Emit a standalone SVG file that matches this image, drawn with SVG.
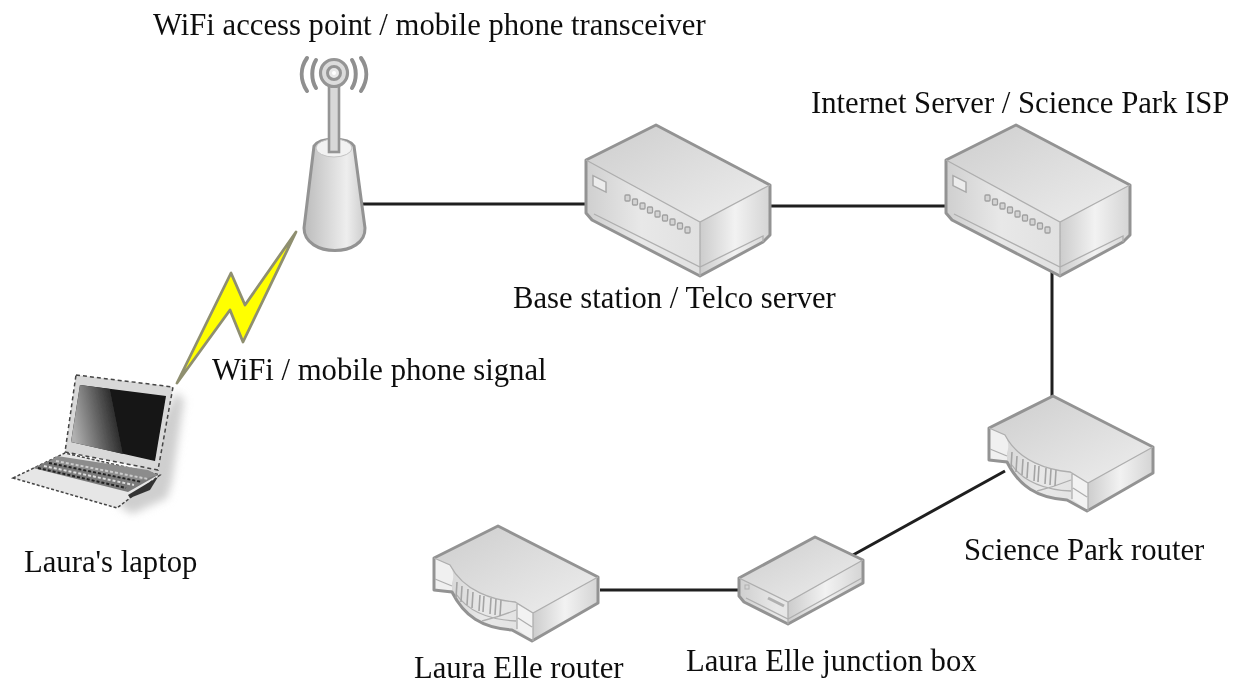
<svg xmlns="http://www.w3.org/2000/svg" width="1242" height="685" viewBox="0 0 1242 685">
<style>
text{font-family:"Liberation Serif","Times New Roman",serif;font-size:30.7px;fill:#111}
.link{stroke:#1f1f1f;stroke-width:3;fill:none}
.edge{stroke:#939393;stroke-width:3;stroke-linejoin:round;fill:none}
.thin{stroke:#aeaeae;stroke-width:1.300;fill:none}
</style>
<defs>
<linearGradient id="top" x1="0" y1="0" x2="1" y2="1"><stop offset="0" stop-color="#cdcdcd"/><stop offset="1" stop-color="#eeeeee"/></linearGradient>
<linearGradient id="front" x1="0" y1="0" x2="1" y2="0"><stop offset="0" stop-color="#cfcfcf"/><stop offset=".3" stop-color="#e8e8e8"/><stop offset="1" stop-color="#d8d8d8"/></linearGradient>
<linearGradient id="side" x1="0" y1="0" x2="1" y2="0"><stop offset="0" stop-color="#cccccc"/><stop offset=".5" stop-color="#f2f2f2"/><stop offset="1" stop-color="#d4d4d4"/></linearGradient>
<linearGradient id="cone" x1="0" y1="0" x2="1" y2="0"><stop offset="0" stop-color="#bcbcbc"/><stop offset=".7" stop-color="#eeeeee"/><stop offset="1" stop-color="#cccccc"/></linearGradient>
<linearGradient id="glass" gradientUnits="userSpaceOnUse" x1="72" y1="425" x2="122" y2="415"><stop offset="0" stop-color="#b0b0b0"/><stop offset=".85" stop-color="#303030"/><stop offset="1" stop-color="#121212"/></linearGradient>
<filter id="soft" x="-5%" y="-5%" width="110%" height="110%"><feGaussianBlur stdDeviation="0.7"/></filter>
<filter id="textsoft" x="-2%" y="-2%" width="104%" height="104%"><feGaussianBlur stdDeviation="0.45"/></filter>
<filter id="shadow" x="-30%" y="-30%" width="160%" height="160%"><feGaussianBlur stdDeviation="4"/></filter>
<g id="server">
<path d="M0 35 70 0 184 60V110L177 117 114 151 6 95 0 88Z" fill="url(#front)"/>
<path d="M0 35 70 0 184 60 114 97Z" fill="url(#top)"/>
<path d="M114 97 184 60V110L177 117 114 151Z" fill="url(#side)"/>
<path class="edge" d="M0 35 70 0 184 60V110L177 117 114 151 6 95 0 88Z"/>
<path class="thin" d="M0 35 114 97 184 60M114 97V151M8 89 114 142 177 111V117"/>
<rect x="7" y="0" width="13" height="10" transform="translate(0 47) skewY(27)" fill="#ececec" stroke="#a8a8a8" stroke-width="1.500"/>
<g fill="#d4d4d4" stroke="#a0a0a0" stroke-width="1.300">
<rect x="39" y="70" width="5" height="6" rx="1"/><rect x="46.500" y="74" width="5" height="6" rx="1"/><rect x="54" y="78" width="5" height="6" rx="1"/><rect x="61.500" y="82" width="5" height="6" rx="1"/><rect x="69" y="86" width="5" height="6" rx="1"/><rect x="76.500" y="90" width="5" height="6" rx="1"/><rect x="84" y="94" width="5" height="6" rx="1"/><rect x="91.500" y="98" width="5" height="6" rx="1"/><rect x="99" y="102" width="5" height="6" rx="1"/>
</g>
</g>
<g id="router">
<path d="M0 32 64 0 164 51V77L98 115 78 104C48 102 30 90 18 66L0 64Z" fill="url(#front)"/>
<path d="M0 32 64 0 164 51 99 87 81 76C60 74 30 66 16 39Z" fill="url(#top)"/>
<path d="M99 87 164 51V77L98 115Z" fill="url(#side)"/>
<path d="M0 32 16 39C20 46 20 52 18 57L18 64 0 64Z" fill="#f0f0f0"/>
<path d="M83 78 99 87V115L83 103Z" fill="#f2f2f2"/>
<path class="edge" d="M0 32 64 0 164 51V77L98 115 78 104C48 102 30 90 18 66L0 64Z"/>
<path class="thin" d="M0 32 16 39C30 66 60 74 81 76L99 87 164 51M99 87V115M83 78V103M1 53 18 60M84 92 98 101M22 68C36 88 60 94 82 95M48 95C60 92 72 88 82 84"/>
<g fill="none" stroke="#a4a4a4" stroke-width="1.600"><path d="M23 56 22 72M28 60 27 76M34 63 33 79M39 66 38 82M46 69 45 85M50 70 49 86M57 72 56 88M62 73 61 89M67 74 66 90"/></g>
</g>
</defs>

<g id="connectors">
<path class="link" d="M362 204H586"/>
<path class="link" d="M770 206H946"/>
<path class="link" d="M1052 270V398"/>
<path class="link" d="M1005 471 853 555"/>
<path class="link" d="M600 590H740"/>
</g>

<g id="access-point">
<g filter="url(#soft)">
<path d="M314 146C320 137 348 137 354 146L365 228C366 258 304 258 304 228Z" fill="url(#cone)" stroke="#939393" stroke-width="3"/>
<ellipse cx="334" cy="148" rx="18" ry="9" fill="#f2f2f2" stroke="#c4c4c4" stroke-width="1"/>
<rect x="329" y="84" width="10" height="68" fill="#d8d8d8" stroke="#959595" stroke-width="2.600"/>
<circle cx="334" cy="73" r="13.500" fill="#dcdcdc" stroke="#959595" stroke-width="3.200"/>
<circle cx="334" cy="73" r="6.500" fill="#e8e8e8" stroke="#959595" stroke-width="3"/>
<circle cx="334" cy="73" r="2" fill="#fff"/>
<g fill="none" stroke="#8f8f8f" stroke-width="4" stroke-linecap="round">
<path d="M316 60C311 68 311 80 316 88M352 60C357 68 357 80 352 88M307 58C300 68 300 80 307 91M361 58C368 68 368 80 361 91"/>
</g>
</g>
</g>

<g id="signal">
<path d="M296 232 245 305 231 273 177 383 230 310 243 342Z" fill="#ffff00" stroke="#8f8f70" stroke-width="2.800" stroke-linejoin="round" filter="url(#soft)"/>
</g>

<g id="laptop">
<path d="M176 392 184 400 172 482 167 498 132 514 118 505Z" fill="#cfcfcf" filter="url(#shadow)"/>
<g filter="url(#soft)">
<path d="M76 375 173 387 158 470 65 452Z" fill="#d8d8d8" stroke="#444" stroke-width="1.500" stroke-dasharray="4 3"/>
<path d="M80 385 166 396 155 461 71 442Z" fill="#121212"/>
<path d="M80 385 110 389 123 454 71 442Z" fill="url(#glass)"/>
<path d="M13 478 65 453 160 475 117 508Z" fill="#e6e6e6" stroke="#444" stroke-width="1.500" stroke-dasharray="3 2"/>
<path d="M33 468 57 457 158 475 128 492Z" fill="#7a7a7a"/>
<path d="M57 456 148 470 158 475 138 481 48 463Z" fill="#8c8c8c"/>
<g fill="none" stroke-dasharray="3 2" stroke-width="2">
<path d="M38 468 126 488" stroke="#222"/>
<path d="M44 466 134 485" stroke="#ddd"/>
<path d="M49 463 142 482" stroke="#222"/>
<path d="M56 461 148 479" stroke="#ccc"/>
</g>
<path d="M128 495 158 477 150 490 130 498Z" fill="#333"/>
</g>
</g>

<g id="base-station"><use href="#server" x="586" y="125" filter="url(#soft)"/></g>
<g id="internet-server"><use href="#server" x="946" y="125" filter="url(#soft)"/></g>
<g id="science-park-router"><use href="#router" x="989" y="396" filter="url(#soft)"/></g>
<g id="laura-elle-router"><use href="#router" x="434" y="526" filter="url(#soft)"/></g>

<g id="junction-box">
<g filter="url(#soft)">
<path d="M739 578 815 537 863 560V583L788 624 744 602 739 596Z" fill="url(#front)"/>
<path d="M739 578 815 537 863 560 788 602Z" fill="url(#top)"/>
<path d="M788 602 863 560V583L788 624Z" fill="url(#side)"/>
<path class="edge" d="M739 578 815 537 863 560V583L788 624 744 602 739 596Z"/>
<path class="thin" d="M739 578 788 602 863 560M788 602V624M746 598 788 619 862 578"/>
<rect x="745" y="585" width="4" height="4" fill="none" stroke="#b0b0b0"/>
<path d="M768 598 784 606" stroke="#b0b0b0" stroke-width="3" fill="none"/>
</g>
</g>

<g id="labels" filter="url(#textsoft)">
<text x="153" y="35">WiFi access point / mobile phone transceiver</text>
<text x="811" y="113">Internet Server / Science Park ISP</text>
<text x="513" y="308">Base station / Telco server</text>
<text x="212" y="380">WiFi / mobile phone signal</text>
<text x="24" y="572">Laura's laptop</text>
<text x="964" y="560">Science Park router</text>
<text x="686" y="671">Laura Elle junction box</text>
<text x="414" y="678">Laura Elle router</text>
</g>
</svg>
